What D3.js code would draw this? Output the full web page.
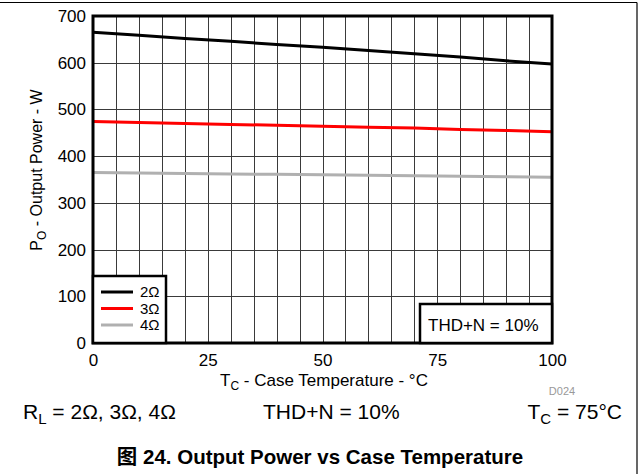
<!DOCTYPE html>
<html><head><meta charset="utf-8">
<script src="https://cdn.jsdelivr.net/npm/d3@7"></script>
<style>body{margin:0;background:#fff}svg{display:block;font-family:Arial,"Liberation Sans",sans-serif}</style>
</head><body>
<svg id="c" width="640" height="474"></svg>
<script>
const temps = [0, 10, 20, 30, 40, 50, 60, 70, 80, 90, 100];
const p2ohm = [665, 659, 652, 646, 639, 633, 626, 619, 612, 604, 597];
const p3ohm = [474, 472, 470, 468, 466, 464, 462, 460, 457, 455, 452];
const p4ohm = [365, 364, 363, 362, 361, 360, 359, 358, 357, 356, 355];
const seriesNames = ["2\u03A9", "3\u03A9", "4\u03A9"];
const seriesColors = ["#000000", "#ff0000", "#b0b0b0"];
const xTicks = [0, 25, 50, 75, 100];
const yTicks = [0, 100, 200, 300, 400, 500, 600, 700];

const FF = "Arial,'Liberation Sans',sans-serif";
const svg = d3.select("#c");
const L = 93, R = 552, T = 16, B = 343;
const x = d3.scaleLinear().domain([0, 100]).range([L, R]);
const y = d3.scaleLinear().domain([0, 700]).range([B, T]);

// outer frame
svg.append("line").attr("x1",0).attr("x2",637).attr("y1",2.5).attr("y2",2.5).attr("stroke","#000").attr("stroke-width",1.2);
svg.append("line").attr("x1",637).attr("x2",637).attr("y1",2.5).attr("y2",474).attr("stroke","#000").attr("stroke-width",1.2);

// grid
const g = svg.append("g");
g.selectAll("line.v").data(d3.range(0, 101, 5)).join("line")
  .attr("x1", d => Math.round(x(d)) + 0.5).attr("x2", d => Math.round(x(d)) + 0.5)
  .attr("y1", T).attr("y2", B).attr("stroke", "#3a3a3a").attr("stroke-width", 1);
g.selectAll("line.h").data(yTicks).join("line")
  .attr("y1", d => Math.round(y(d)) + 0.5).attr("y2", d => Math.round(y(d)) + 0.5)
  .attr("x1", L).attr("x2", R).attr("stroke", "#3a3a3a").attr("stroke-width", 1);

// series
const line = d3.line().x((d, i) => x(temps[i])).y(d => y(d));
[p2ohm, p3ohm, p4ohm].forEach((s, i) => {
  svg.append("path").datum(s).attr("d", line).attr("fill", "none")
    .attr("stroke", seriesColors[i]).attr("stroke-width", 3);
});

// plot border
svg.append("rect").attr("x", L).attr("y", T).attr("width", R - L).attr("height", B - T)
  .attr("fill", "none").attr("stroke", "#000").attr("stroke-width", 3);

// axes
const ax = svg.append("g").attr("transform", `translate(0,${B})`)
  .call(d3.axisBottom(x).tickValues(xTicks).tickSize(0).tickPadding(11));
ax.select(".domain").remove();
ax.selectAll("text").attr("font-size", 17).attr("fill", "#000").attr("font-family", FF);
const ay = svg.append("g").attr("transform", `translate(${L},0)`)
  .call(d3.axisLeft(y).tickValues(yTicks).tickSize(0).tickPadding(7));
ay.select(".domain").remove();
ay.selectAll("text").attr("font-size", 17).attr("fill", "#000").attr("font-family", FF);

// legend
const lg = svg.append("g");
lg.append("rect").attr("x", L).attr("y", 276).attr("width", 73).attr("height", B - 276)
  .attr("fill", "#fff").attr("stroke", "#000").attr("stroke-width", 2.5);
seriesNames.forEach((n, i) => {
  const yy = 292 + i * 16.5;
  lg.append("line").attr("x1", 101).attr("x2", 133).attr("y1", yy).attr("y2", yy)
    .attr("stroke", seriesColors[i]).attr("stroke-width", 3);
  lg.append("text").attr("x", 140).attr("y", yy + 5).attr("font-size", 15).text(n);
});

// THD box
svg.append("rect").attr("x", 420).attr("y", 304).attr("width", R - 420).attr("height", B - 304)
  .attr("fill", "#fff").attr("stroke", "#000").attr("stroke-width", 2.5);
svg.append("text").attr("x", 428).attr("y", 331).attr("font-size", 17).text("THD+N = 10%");

// axis titles
const xt = svg.append("text").attr("x", 324).attr("y", 386).attr("text-anchor", "middle").attr("font-size", 17);
xt.append("tspan").text("T");
xt.append("tspan").attr("font-size", 12).attr("dy", 4).text("C");
xt.append("tspan").attr("dy", -4).text(" - Case Temperature - \u00B0C");

const yt = svg.append("text").attr("transform", "translate(42,170) rotate(-90)").attr("text-anchor", "middle").attr("font-size", 16);
yt.append("tspan").text("P");
yt.append("tspan").attr("font-size", 12).attr("dy", 4).text("O");
yt.append("tspan").attr("dy", -4).text(" - Output Power - W");

svg.append("text").attr("x", 562).attr("y", 395).attr("text-anchor", "middle").attr("font-size", 11).attr("fill", "#999").text("D024");

// conditions line
const c1 = svg.append("text").attr("x", 23).attr("y", 419).attr("font-size", 21);
c1.append("tspan").text("R");
c1.append("tspan").attr("font-size", 15).attr("dy", 5).text("L");
c1.append("tspan").attr("dy", -5).text(" = 2\u03A9, 3\u03A9, 4\u03A9");
svg.append("text").attr("x", 263).attr("y", 419).attr("font-size", 21).text("THD+N = 10%");
const c3 = svg.append("text").attr("x", 622).attr("y", 419).attr("text-anchor", "end").attr("font-size", 21);
c3.append("tspan").text("T");
c3.append("tspan").attr("font-size", 15).attr("dy", 5).text("C");
c3.append("tspan").attr("dy", -5).text(" = 75\u00B0C");

svg.append("text").attr("x", 320).attr("y", 464).attr("text-anchor", "middle").attr("font-size", 20.5)
  .attr("font-weight", "bold").attr("font-family", "Arial,'Liberation Sans','Noto Sans CJK SC',sans-serif")
  .text("\u56FE 24. Output Power vs Case Temperature");
</script>
</body></html>
